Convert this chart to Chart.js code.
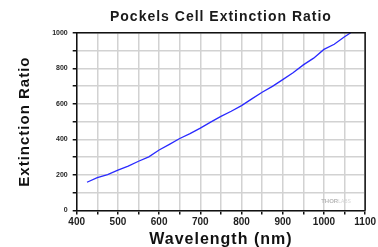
<!DOCTYPE html>
<html>
<head>
<meta charset="utf-8">
<script src="https://cdn.jsdelivr.net/npm/chart.js@4"></script>
<style>
  html, body { margin: 0; padding: 0; background: #fff; }
  #wrap { width: 378px; height: 247px; position: relative; }
</style>
</head>
<body>
<div id="wrap"><canvas id="c" width="378" height="247"></canvas></div>
<script>
const wavelengths = [425, 450, 475, 500, 525, 550, 575, 600, 625, 650, 675, 700, 725, 750, 775, 800, 825, 850, 875, 900, 925, 950, 975, 1000, 1025, 1050, 1065];
const extinctionRatio = [159, 185, 202, 227, 250, 277, 302, 340, 372, 405, 432, 463, 497, 529, 558, 590, 628, 665, 698, 736, 775, 819, 857, 906, 935, 977, 1000];
const xTickLabels = [400, 500, 600, 700, 800, 900, 1000, 1100];
const yTickLabels = [0, 200, 400, 600, 800, 1000];
const titleText = 'Pockels Cell Extinction Ratio';
const xTitle = 'Wavelength (nm)';
const yTitle = 'Extinction Ratio';

const points = wavelengths.map((w, i) => ({ x: w, y: extinctionRatio[i] }));

// tick labels drawn without letter spacing, titles with
const origDrawLabels = Chart.LinearScale.prototype.drawLabels;
Chart.LinearScale.prototype.drawLabels = function (area) {
  this.ctx.save();
  this.ctx.letterSpacing = '0px';
  origDrawLabels.call(this, area);
  this.ctx.restore();
};

const framePlugin = {
  id: 'frame',
  beforeDraw(chart) {
    chart.ctx.letterSpacing = '1px';
  },
  afterDraw(chart) {
    const { ctx, chartArea: a } = chart;
    ctx.save();
    ctx.letterSpacing = '0px';
    ctx.strokeStyle = '#111';
    ctx.lineWidth = 1.5;
    ctx.beginPath();
    ctx.moveTo(a.left, a.top);
    ctx.lineTo(a.right, a.top);
    ctx.lineTo(a.right, a.bottom);
    ctx.stroke();
    ctx.font = 'bold 6px "Liberation Sans", Arial, sans-serif';
    ctx.textBaseline = 'middle';
    ctx.textAlign = 'left';
    ctx.fillStyle = '#b8b8b8';
    ctx.fillText('THOR', a.right - 44, a.bottom - 9);
    const w = ctx.measureText('THOR').width;
    ctx.font = '5px "Liberation Sans", Arial, sans-serif';
    ctx.fillStyle = '#d4d4d4';
    ctx.fillText('LABS', a.right - 44 + w, a.bottom - 9);
    ctx.restore();
  }
};

new Chart(document.getElementById('c'), {
  type: 'line',
  data: {
    datasets: [{
      data: points,
      borderColor: '#2a2aff',
      borderWidth: 1.3,
      pointRadius: 0,
      tension: 0,
      fill: false
    }]
  },
  options: {
    responsive: false,
    animation: false,
    devicePixelRatio: 1,
    layout: { padding: { left: 0, right: 12, top: 0, bottom: 0 } },
    plugins: {
      legend: { display: false },
      tooltip: { enabled: false },
      title: {
        display: true,
        fullSize: false,
        text: titleText,
        color: '#1a1a1a',
        font: { family: '"Liberation Sans", Arial, sans-serif', size: 14, weight: 'bold', lineHeight: 1.2 },
        padding: { top: 8.6, bottom: 7.3 }
      }
    },
    scales: {
      x: {
        type: 'linear',
        min: 400,
        max: 1100,
        afterBuildTicks(scale) {
          const t = [];
          for (let v = 400; v <= 1100; v += 50) t.push({ value: v });
          scale.ticks = t;
        },
        afterFit(scale) { scale.height = 36.5; },
        ticks: {
          autoSkip: false,
          maxRotation: 0,
          padding: 2,
          color: '#1e1e1e',
          font: { family: '"Liberation Sans", Arial, sans-serif', size: 10, weight: 'bold' },
          callback: (v) => (xTickLabels.includes(v) ? String(v) : '')
        },
        grid: { color: '#d2d2d2', lineWidth: 1.5, tickColor: '#111', tickLength: 4, drawTicks: true },
        border: { color: '#111', width: 1.5 },
        title: {
          display: true,
          text: xTitle,
          color: '#111',
          font: { family: '"Liberation Sans", Arial, sans-serif', size: 16, weight: 'bold', lineHeight: 0.875 },
          padding: { top: 0, bottom: 0 }
        }
      },
      y: {
        type: 'linear',
        min: 0,
        max: 1000,
        afterBuildTicks(scale) {
          const t = [];
          for (let v = 0; v <= 1000; v += 100) t.push({ value: v });
          scale.ticks = t;
        },
        afterFit(scale) { scale.width = 76.7; },
        ticks: {
          autoSkip: false,
          padding: 5,
          color: '#1e1e1e',
          font: { family: '"Liberation Sans", Arial, sans-serif', size: 7, weight: 'bold' },
          callback: (v) => (yTickLabels.includes(v) ? String(v) : '')
        },
        grid: { color: '#d2d2d2', lineWidth: 1.5, tickColor: '#111', tickLength: 4, drawTicks: true },
        border: { color: '#111', width: 1.5 },
        title: {
          display: true,
          text: yTitle,
          color: '#111',
          font: { family: '"Liberation Sans", Arial, sans-serif', size: 15, weight: 'bold', lineHeight: 1.2 },
          padding: { top: 15.5, bottom: 0 }
        }
      }
    }
  },
  plugins: [framePlugin]
});
</script>
</body>
</html>
